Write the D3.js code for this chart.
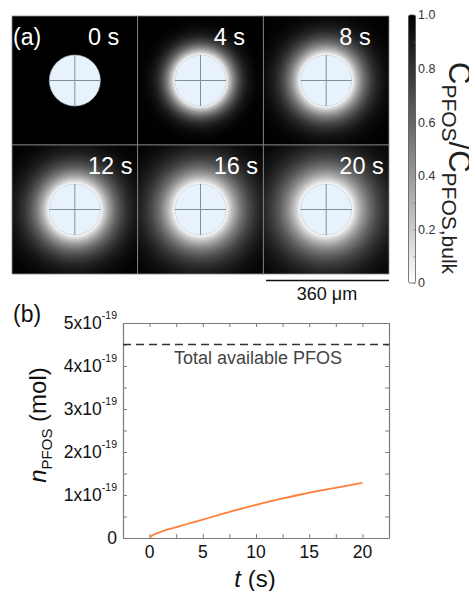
<!DOCTYPE html>
<html>
<head>
<meta charset="utf-8">
<script src="https://cdn.jsdelivr.net/npm/d3@7"></script>
<style>
  body { margin: 0; background: #fff; }
  svg { display: block; font-family: "Liberation Sans", Arial, sans-serif; }
</style>
</head>
<body>
<div id="chart"></div>
<script>
// panel (a) : snapshots
const times = [0, 4, 8, 12, 16, 20];
const timeLabels = ["0 s", "4 s", "8 s", "12 s", "16 s", "20 s"];
// depletion length (px) read from the glow around the drop
const depletion = [0, 20, 28, 34, 39, 44];
const cbTicks = [0, 0.2, 0.4, 0.6, 0.8, 1.0];
const cbLabels = ["0", "0.2", "0.4", "0.6", "0.8", "1.0"];

// panel (b) : adsorbed amount
const tData = [0, 0.2, 0.5, 1, 2, 3, 4, 5, 6, 8, 10, 12, 14, 16, 18, 20];
const nData = [0, 0.05, 0.09, 0.14, 0.22, 0.29, 0.36, 0.43, 0.50, 0.64, 0.77, 0.89, 1.00, 1.10, 1.19, 1.28]; // x1e-19 mol
const totalPFOS = 4.5; // x1e-19 mol
const xTicks = [0, 5, 10, 15, 20];
const yTicks = [0, 1, 2, 3, 4, 5];

const W = 469, H = 591;
const svg = d3.select("#chart").append("svg")
  .attr("width", W).attr("height", H);
const defs = svg.append("defs");

// ---------- panel (a) ----------
const col = d3.scaleBand().domain([0, 1, 2]).range([12, 389]);
const row = d3.scaleBand().domain([0, 1]).range([16, 274]);
const gray = d3.scaleLinear().domain([0, 1]).range(["#ffffff", "#000000"]);
const R = 25.5;

// erfc, for the glow profile
function erfc(x) {
  const t = 1 / (1 + 0.3275911 * x);
  const p = t * (0.254829592 + t * (-0.284496736 + t * (1.421413741 + t * (-1.453152027 + t * 1.061405429))));
  return p * Math.exp(-x * x);
}

const tiles = svg.append("g").selectAll("g")
  .data(times)
  .join("g")
  .attr("transform", (d, i) => `translate(${col(i % 3)},${row(Math.floor(i / 3))})`);

tiles.each(function (d, i) {
  const g = d3.select(this);
  const w = col.bandwidth(), h = row.bandwidth();
  const cx = w / 2, cy = h / 2;
  const L = depletion[i];
  const rMax = 100;
  const grad = defs.append("radialGradient")
    .attr("id", "glow" + i)
    .attr("gradientUnits", "userSpaceOnUse")
    .attr("cx", cx).attr("cy", cy).attr("r", rMax);
  grad.append("stop").attr("offset", 0).attr("stop-color", "#fff");
  d3.range(0, 41).forEach(k => {
    const r = R + (rMax - R) * k / 40;
    const c = L === 0 ? 1 : 1 - Math.sqrt(R / r) * erfc((r - R) / L);
    grad.append("stop").attr("offset", r / rMax).attr("stop-color", gray(c));
  });

  g.append("rect")
    .attr("width", w).attr("height", h)
    .attr("fill", `url(#glow${i})`)
    .attr("stroke", "#8a8a8a").attr("stroke-width", 0.8);

  g.append("circle")
    .attr("cx", cx).attr("cy", cy).attr("r", R)
    .attr("fill", "#e8f2fc")
    .attr("stroke", "#b9c5cd").attr("stroke-width", 0.6);
  g.append("line")
    .attr("x1", cx - R).attr("x2", cx + R).attr("y1", cy).attr("y2", cy)
    .attr("stroke", "#7f8f99").attr("stroke-width", 1);
  g.append("line")
    .attr("x1", cx).attr("x2", cx).attr("y1", cy - R).attr("y2", cy + R)
    .attr("stroke", "#7f8f99").attr("stroke-width", 1);

  g.append("text")
    .attr("x", 76).attr("y", 29)
    .attr("fill", "#fff")
    .attr("font-size", 23.5)
    .text(timeLabels[i]);
});

svg.append("text")
  .attr("x", 13).attr("y", 45)
  .attr("fill", "#fff").attr("font-size", 23)
  .text("(a)");

// scale bar
svg.append("line")
  .attr("x1", 266).attr("x2", 389).attr("y1", 280.5).attr("y2", 280.5)
  .attr("stroke", "#111").attr("stroke-width", 1.6);
svg.append("text")
  .attr("x", 327).attr("y", 300)
  .attr("text-anchor", "middle").attr("font-size", 18).attr("fill", "#111")
  .text("360 μm");

// colour bar
const cbY = d3.scaleLinear().domain([0, 1]).range([283, 15]);
const cbGrad = defs.append("linearGradient")
  .attr("id", "cbGrad").attr("x1", 0).attr("x2", 0).attr("y1", 1).attr("y2", 0);
d3.range(0, 11).forEach(k => {
  cbGrad.append("stop").attr("offset", k / 10).attr("stop-color", gray(k / 10));
});
svg.append("rect")
  .attr("x", 408.5).attr("y", cbY(1)).attr("width", 7).attr("height", cbY(0) - cbY(1))
  .attr("rx", 1.5)
  .attr("fill", "url(#cbGrad)")
  .attr("stroke", "#444").attr("stroke-width", 0.7);
const cbAxis = svg.append("g")
  .attr("transform", "translate(415.5,0)")
  .call(d3.axisRight(cbY).tickValues(d3.range(0, 1.01, 0.1)).tickSize(-2).tickFormat(""));
cbAxis.select(".domain").remove();
cbAxis.selectAll("line").attr("stroke", "#666").attr("stroke-width", 0.6);
svg.append("g").selectAll("text")
  .data(cbTicks)
  .join("text")
  .attr("x", 418).attr("y", d => cbY(d))
  .attr("dy", "0.35em")
  .attr("font-size", 12.5).attr("fill", "#333")
  .text((d, i) => cbLabels[i]);

const cbTitle = svg.append("text")
  .attr("transform", "translate(449,62) rotate(90)")
  .attr("font-size", 31).attr("fill", "#222");
cbTitle.append("tspan").text("C");
cbTitle.append("tspan").attr("font-size", 21).attr("dy", 7).text("PFOS");
cbTitle.append("tspan").attr("dy", -7).text("/C");
cbTitle.append("tspan").attr("font-size", 21).attr("dy", 7).text("PFOS,bulk");

// ---------- panel (b) ----------
const x = d3.scaleLinear().domain([-2.5, 22.5]).range([123, 389]);
const y = d3.scaleLinear().domain([0, 5]).range([538, 323]);
const axisColor = "#7a7a7a";

function styleAxis(g) {
  g.select(".domain").attr("stroke", axisColor).attr("stroke-width", 1.2);
  g.selectAll(".tick line").attr("stroke", axisColor).attr("stroke-width", 1);
}
const xMinor = d3.range(-2.5, 22.6, 2.5);
const yMinor = d3.range(0, 5.01, 0.5);

svg.append("g").attr("transform", `translate(0,${y(0)})`)
  .call(d3.axisBottom(x).tickValues(xMinor).tickSize(-4).tickSizeOuter(0).tickFormat(""))
  .call(styleAxis);
svg.append("g").attr("transform", `translate(0,${y(5)})`)
  .call(d3.axisTop(x).tickValues(xMinor).tickSize(-4).tickSizeOuter(0).tickFormat(""))
  .call(styleAxis);
svg.append("g").attr("transform", `translate(${x(-2.5)},0)`)
  .call(d3.axisLeft(y).tickValues(yMinor).tickSize(-4).tickSizeOuter(0).tickFormat(""))
  .call(styleAxis);
svg.append("g").attr("transform", `translate(${x(22.5)},0)`)
  .call(d3.axisRight(y).tickValues(yMinor).tickSize(-4).tickSizeOuter(0).tickFormat(""))
  .call(styleAxis);

// x tick labels
svg.append("g").selectAll("text")
  .data(xTicks)
  .join("text")
  .attr("x", d => x(d)).attr("y", 558)
  .attr("text-anchor", "middle").attr("font-size", 17.5).attr("fill", "#111")
  .text(d => d);

// y tick labels
const yLab = svg.append("g").selectAll("text")
  .data(yTicks)
  .join("text")
  .attr("x", 117).attr("y", d => y(d))
  .attr("text-anchor", "end").attr("font-size", 17.5).attr("fill", "#111");
yLab.filter(d => d === 0).attr("dy", "0.35em").text("0");
yLab.filter(d => d !== 0).each(function (d) {
  const t = d3.select(this);
  t.append("tspan").attr("dy", "0.35em").text(d + "x10");
  t.append("tspan").attr("font-size", 10.5).attr("dy", "-0.95em").text("-19");
});

// dashed total line
svg.append("line")
  .attr("x1", x(-2.5)).attr("x2", x(22.5))
  .attr("y1", y(totalPFOS)).attr("y2", y(totalPFOS))
  .attr("stroke", "#333").attr("stroke-width", 1.3)
  .attr("stroke-dasharray", "8,5");
svg.append("text")
  .attr("x", 258).attr("y", 364)
  .attr("text-anchor", "middle").attr("font-size", 18).attr("fill", "#444")
  .text("Total available PFOS");

// curve
svg.append("path")
  .datum(tData.map((t, i) => [t, nData[i]]))
  .attr("fill", "none")
  .attr("stroke", "#ff7f3a").attr("stroke-width", 1.8)
  .attr("d", d3.line().x(d => x(d[0])).y(d => y(d[1])).curve(d3.curveMonotoneX));

svg.append("text")
  .attr("x", 13).attr("y", 322)
  .attr("font-size", 23).attr("fill", "#111")
  .text("(b)");

// axis titles
const xt = svg.append("text")
  .attr("x", 255).attr("y", 587)
  .attr("text-anchor", "middle").attr("font-size", 24).attr("fill", "#111");
xt.append("tspan").attr("font-style", "italic").text("t");
xt.append("tspan").text(" (s)");

const yt = svg.append("text")
  .attr("transform", "translate(46,425) rotate(-90)")
  .attr("text-anchor", "middle").attr("font-size", 24).attr("fill", "#111");
yt.append("tspan").attr("font-style", "italic").text("n");
yt.append("tspan").attr("font-size", 15).attr("dy", 6).text("PFOS");
yt.append("tspan").attr("dy", -6).text(" (mol)");
</script>
</body>
</html>
